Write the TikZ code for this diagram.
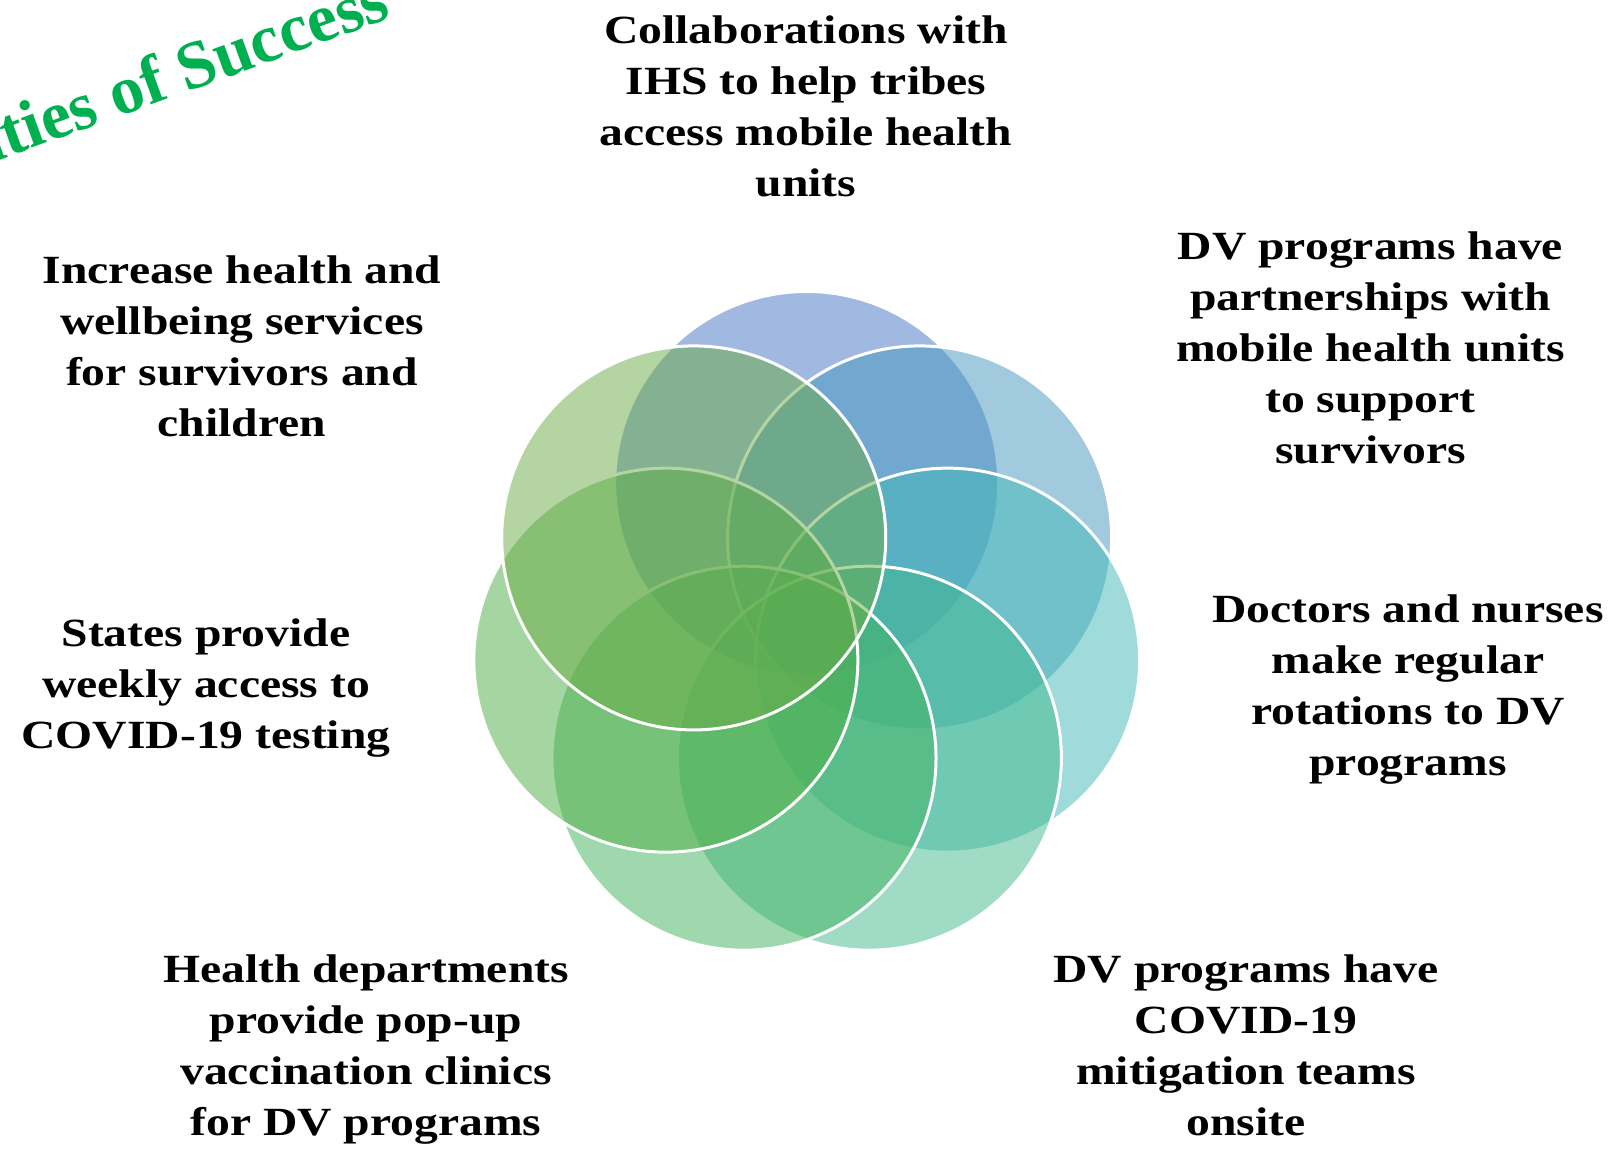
\documentclass[tikz,border=0pt]{standalone}
\usepackage{fontspec}
\setmainfont{Liberation Serif}[FakeStretch=1.19]
\newfontfamily\titlefont{Liberation Serif}
\definecolor{ca}{HTML}{4472C4}
\definecolor{cb}{HTML}{4597C1}
\definecolor{cc}{HTML}{41B9B7}
\definecolor{cd}{HTML}{41B98D}
\definecolor{ce}{HTML}{43B35F}
\definecolor{cf}{HTML}{4DAD43}
\definecolor{cg}{HTML}{6BAB47}
\definecolor{titlegreen}{HTML}{00B050}
\tikzset{
  ring/.style={circle, minimum size=384pt, inner sep=0pt, draw=white, line width=3pt, fill opacity=0.5, draw opacity=1},
  label/.style={align=center, inner sep=0pt, anchor=base, font=\bfseries\fontsize{40}{51}\selectfont},
}
\begin{document}
\begin{tikzpicture}[x=1pt, y=-1pt]
\useasboundingbox (0,0) rectangle (1616,1148);
\fill[white] (0,0) rectangle (1616,1148);
\foreach \i/\c in {0/ca,1/cb,2/cc,3/cd,4/ce,5/cf,6/cg}{
  \node[ring, fill=\c] (r\i) at ({806.7+144.5*cos(90-\i*360/7)}, {628-144.5*sin(90-\i*360/7)}) {};
}
% anchor = baseline of the last line
\node[label] (t0) at (806,196) {Collaborations with\\IHS to help tribes\\access mobile health\\units};
\node[label] (t1) at (1370.5,463) {DV programs have\\partnerships with\\mobile health units\\to support\\survivors};
\node[label] (t2) at (1408,775) {Doctors and nurses\\make regular\\rotations to DV\\programs};
\node[label] (t3) at (1246,1135) {DV programs have\\COVID-19\\mitigation teams\\onsite};
\node[label] (t4) at (366,1135) {Health departments\\provide pop-up\\vaccination clinics\\for DV programs};
\node[label] (t5) at (206,748) {States provide\\weekly access to\\COVID-19 testing};
\node[label] (t6) at (242,436) {Increase health and\\wellbeing services\\for survivors and\\children};
\node[anchor=base east, rotate=20, inner sep=0pt, text=titlegreen, font=\titlefont\bfseries\fontsize{68}{80}\selectfont] (title) at (393,17) {Opportunities of Success};
\end{tikzpicture}
\end{document}
